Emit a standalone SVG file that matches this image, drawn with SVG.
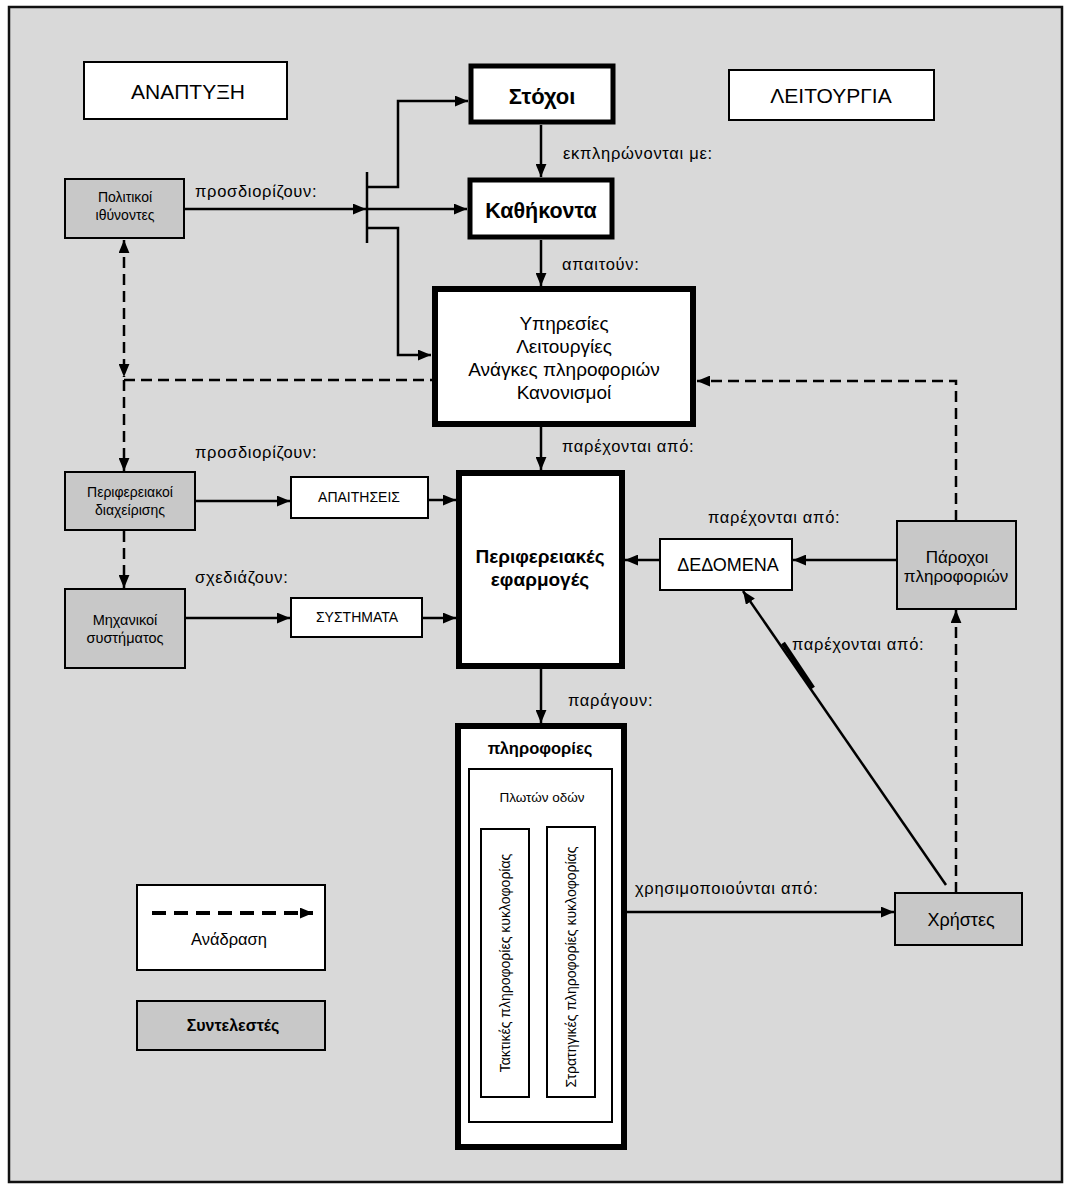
<svg xmlns="http://www.w3.org/2000/svg" width="1071" height="1189" viewBox="0 0 1071 1189">
<style>
text{font-family:"Liberation Sans","DejaVu Sans",Arial,sans-serif;fill:#000}
.c{text-anchor:middle}
.b{font-weight:bold}
.w{fill:#fff;stroke:#000;stroke-width:2}
.g{fill:#c8c8c8;stroke:#000;stroke-width:2}
.k{fill:#fff;stroke:#000;stroke-width:5}
.k6{fill:#fff;stroke:#000;stroke-width:6}
.ln{fill:none;stroke:#000;stroke-width:2.5}
.d{fill:none;stroke:#000;stroke-width:2.5;stroke-dasharray:11 6}
.lbl{font-size:16.5px;letter-spacing:0.7px}
</style>
<defs>
<marker id="a" viewBox="0 0 12 10" refX="12" refY="5" markerWidth="13" markerHeight="11" markerUnits="userSpaceOnUse" orient="auto-start-reverse">
<path d="M0,0 L12,5 L0,10 Z" fill="#000"/>
</marker>
</defs>
<rect x="0" y="0" width="1071" height="1189" fill="#fff"/>
<rect x="9" y="7" width="1053" height="1175" fill="#d9d9d9" stroke="#111" stroke-width="2.5"/>

<g id="anaptyxi"><rect class="w" x="84" y="62" width="203" height="57"/><text class="c" x="188" y="99" font-size="21">ΑΝΑΠΤΥΞΗ</text></g>
<g id="leitourgia"><rect class="w" x="729" y="70" width="205" height="50"/><text class="c" x="831" y="103" font-size="21">ΛΕΙΤΟΥΡΓΙΑ</text></g>
<g id="stoxoi"><rect class="k" x="471" y="66" width="142" height="56"/><text class="c b" x="542" y="104" font-size="22">Στόχοι</text></g>
<g id="kathikonta"><rect class="k" x="470" y="180" width="142" height="57"/><text class="c b" x="541" y="218" font-size="21.5">Καθήκοντα</text></g>
<g id="ypiresies"><rect class="k6" x="435" y="289" width="258" height="135"/>
<text class="c" x="564" y="330" font-size="19">Υπηρεσίες</text>
<text class="c" x="564" y="353" font-size="19">Λειτουργίες</text>
<text class="c" x="564" y="376" font-size="19">Ανάγκες πληροφοριών</text>
<text class="c" x="564" y="399" font-size="19">Κανονισμοί</text></g>
<g id="efarmoges"><rect class="k6" x="459" y="473" width="163" height="193"/>
<text class="c b" x="540" y="563" font-size="19">Περιφερειακές</text>
<text class="c b" x="540" y="586" font-size="19">εφαρμογές</text></g>
<g id="plirofories"><rect class="k6" x="458" y="726" width="166" height="421"/>
<text class="c b" x="540" y="754" font-size="16.5">πληροφορίες</text>
<rect class="w" x="469" y="769" width="143" height="353"/>
<text class="c" x="542" y="802" font-size="13.5">Πλωτών οδών</text>
<rect class="w" x="481" y="829" width="48" height="268"/>
<rect class="w" x="547" y="827" width="48" height="270"/>
<text class="c" font-size="14" transform="translate(510,963) rotate(-90)">Τακτικές  πληροφορίες κυκλοφορίας</text>
<text class="c" font-size="14" transform="translate(576,967) rotate(-90)">Στρατηγικές πληροφορίες κυκλοφορίας</text></g>
<g id="politikoi"><rect class="g" x="65" y="179" width="119" height="59"/>
<text class="c" x="125" y="202" font-size="14">Πολιτικοί</text>
<text class="c" x="125" y="220" font-size="14">ιθύνοντες</text></g>
<g id="perifereiakoi"><rect class="g" x="65" y="472" width="130" height="58"/>
<text class="c" x="130" y="497" font-size="14">Περιφερειακοί</text>
<text class="c" x="130" y="515" font-size="14">διαχείρισης</text></g>
<g id="mixanikoi"><rect class="g" x="65" y="589" width="120" height="79"/>
<text class="c" x="125" y="625" font-size="14.5">Μηχανικοί</text>
<text class="c" x="125" y="643" font-size="14.5">συστήματος</text></g>
<g id="apaitiseis"><rect class="w" x="291" y="477" width="137" height="41"/><text class="c" x="359" y="502" font-size="14">ΑΠΑΙΤΗΣΕΙΣ</text></g>
<g id="systimata"><rect class="w" x="291" y="598" width="131" height="39"/><text class="c" x="357" y="622" font-size="14">ΣΥΣΤΗΜΑΤΑ</text></g>
<g id="dedomena"><rect class="w" x="660" y="539" width="132" height="51"/><text class="c" x="728" y="571" font-size="18">ΔΕΔΟΜΕΝΑ</text></g>
<g id="parochoi"><rect class="g" x="897" y="521" width="119" height="88"/>
<text class="c" x="957" y="563" font-size="17">Πάροχοι</text>
<text class="c" x="956" y="582" font-size="17">πληροφοριών</text></g>
<g id="xristes"><rect class="g" x="895" y="893" width="127" height="52"/><text class="c" x="961" y="926" font-size="18">Χρήστες</text></g>
<g id="legend-feedback"><rect class="w" x="137" y="885" width="188" height="85"/>
<line x1="152" y1="913" x2="313" y2="913" stroke="#000" stroke-width="4" stroke-dasharray="14 8" marker-end="url(#a)"/>
<text class="c" x="229" y="945" font-size="16.5">Ανάδραση</text></g>
<g id="legend-actors"><rect class="g" x="137" y="1001" width="188" height="49"/><text class="c b" x="233" y="1031" font-size="16">Συντελεστές</text></g>

<g id="connectors">
<line class="ln" x1="541" y1="125" x2="541" y2="177" marker-end="url(#a)"/>
<line class="ln" x1="541" y1="240" x2="541" y2="286" marker-end="url(#a)"/>
<line class="ln" x1="541" y1="427" x2="541" y2="470" marker-end="url(#a)"/>
<line class="ln" x1="541" y1="668" x2="541" y2="723" marker-end="url(#a)"/>
<line class="ln" x1="185" y1="209" x2="366" y2="209" marker-end="url(#a)"/>
<line x1="367" y1="172" x2="367" y2="243" stroke="#000" stroke-width="2.5"/>
<line class="ln" x1="367" y1="209" x2="467" y2="209" marker-end="url(#a)"/>
<polyline class="ln" points="367,187 398,187 398,101 468,101" marker-end="url(#a)"/>
<polyline class="ln" points="367,228 398,228 398,355 431,355" marker-end="url(#a)"/>
<line class="ln" x1="195" y1="501" x2="290" y2="501" marker-end="url(#a)"/>
<line class="ln" x1="428" y1="500" x2="456" y2="500" marker-end="url(#a)"/>
<line class="ln" x1="185" y1="618" x2="290" y2="618" marker-end="url(#a)"/>
<line class="ln" x1="422" y1="618" x2="456" y2="618" marker-end="url(#a)"/>
<line class="ln" x1="659" y1="560" x2="625" y2="560" marker-end="url(#a)"/>
<line class="ln" x1="897" y1="560" x2="793" y2="560" marker-end="url(#a)"/>
<line class="ln" x1="626" y1="912" x2="894" y2="912" marker-end="url(#a)"/>
<line class="ln" x1="946" y1="885" x2="743" y2="591" marker-end="url(#a)"/>
<line x1="783" y1="643" x2="813" y2="688" stroke="#000" stroke-width="4.5"/>
<line class="d" x1="124" y1="240" x2="124" y2="377" marker-start="url(#a)" marker-end="url(#a)"/>
<line class="d" x1="124" y1="380" x2="432" y2="380"/>
<line class="d" x1="124" y1="380" x2="124" y2="471" marker-end="url(#a)"/>
<line class="d" x1="124" y1="531" x2="124" y2="588" marker-end="url(#a)"/>
<polyline class="d" points="956,521 956,381 697,381" marker-end="url(#a)"/>
<line class="d" x1="956" y1="893" x2="956" y2="610" marker-end="url(#a)"/>
</g>

<g id="labels">
<text class="lbl" x="563" y="159">εκπληρώνονται με:</text>
<text class="lbl" x="562" y="270">απαιτούν:</text>
<text class="lbl" x="562" y="452">παρέχονται από:</text>
<text class="lbl" x="568" y="706">παράγουν:</text>
<text class="lbl" x="195" y="197">προσδιορίζουν:</text>
<text class="lbl" x="195" y="458">προσδιορίζουν:</text>
<text class="lbl" x="195" y="583">σχεδιάζουν:</text>
<text class="lbl" x="708" y="523">παρέχονται από:</text>
<text class="lbl" x="792" y="650">παρέχονται από:</text>
<text class="lbl" x="635" y="894">χρησιμοποιούνται από:</text>
</g>
</svg>
